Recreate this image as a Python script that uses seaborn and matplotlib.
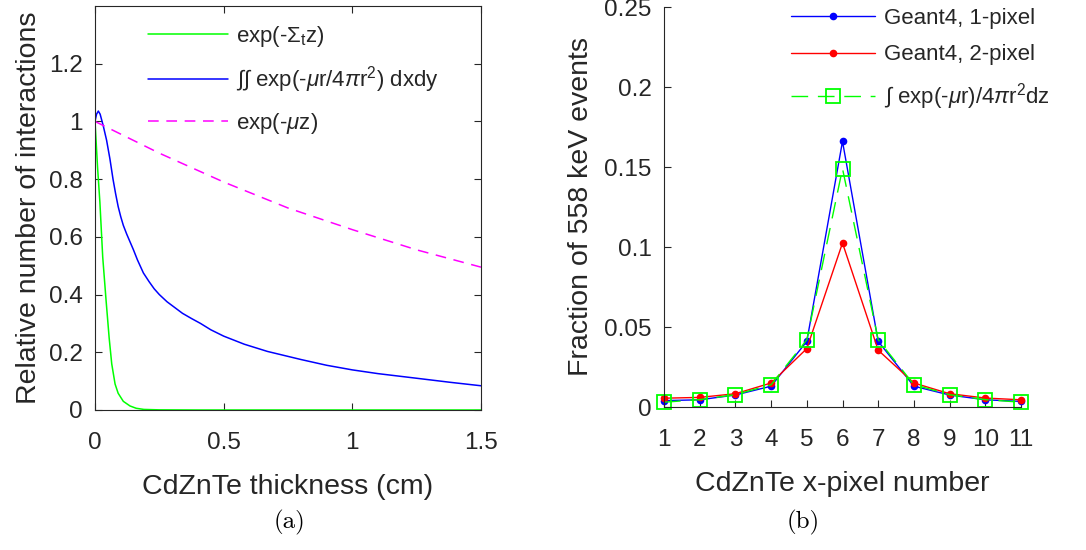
import numpy as np
import pandas as pd
import matplotlib
matplotlib.use("Agg")
import matplotlib.pyplot as plt
import seaborn as sns

# ---------------- data ----------------
# (a) attenuation curves vs CdZnTe thickness (cm)
green_z = [0, 0.005, 0.01, 0.019, 0.03, 0.043, 0.055, 0.065, 0.078, 0.09, 0.11,
           0.136, 0.16, 0.19, 0.25, 0.4, 1.5]
green_y = [1.0, 0.92, 0.84, 0.72, 0.53, 0.38, 0.25, 0.16, 0.09, 0.058, 0.03,
           0.014, 0.006, 0.002, 0.0005, 0.0, 0.0]

blue_z = [0, 0.006, 0.013, 0.02, 0.032, 0.045, 0.058, 0.07, 0.08, 0.09, 0.1,
          0.11, 0.123, 0.135, 0.149, 0.165, 0.188, 0.21, 0.23, 0.25, 0.28, 0.31,
          0.34, 0.375, 0.41, 0.45, 0.5, 0.58, 0.67, 0.8, 0.9, 1.0, 1.1,
          1.25, 1.38, 1.5]
blue_y = [1.0, 1.025, 1.036, 1.025, 0.985, 0.935, 0.87, 0.80, 0.75, 0.705, 0.67,
          0.64, 0.61, 0.585, 0.556, 0.52, 0.475, 0.445, 0.42, 0.40, 0.375, 0.355,
          0.335, 0.317, 0.30, 0.278, 0.256, 0.228, 0.203, 0.175, 0.155, 0.139,
          0.126, 0.110, 0.096, 0.084]

mag_z = [0, 0.25, 0.5, 0.75, 1.0, 1.25, 1.5]
mag_y = [1.0, 0.89, 0.79, 0.70, 0.625, 0.555, 0.495]

# (b) fraction of 558 keV events per x-pixel
pixels = [1, 2, 3, 4, 5, 6, 7, 8, 9, 10, 11]
g4_1pix = [0.004, 0.0045, 0.0075, 0.013, 0.041, 0.166, 0.041, 0.013, 0.0075, 0.0045, 0.0035]
g4_2pix = [0.0055, 0.006, 0.0083, 0.015, 0.0365, 0.1025, 0.0355, 0.015, 0.0083, 0.0056, 0.0045]
integ = [0.003, 0.0046, 0.0077, 0.0139, 0.042, 0.149, 0.042, 0.014, 0.0077, 0.0046, 0.003]

x_ticks_a = [0, 0.5, 1, 1.5]
x_tick_labels_a = ["0", "0.5", "1", "1.5"]
y_ticks_a = [0, 0.2, 0.4, 0.6, 0.8, 1.0, 1.2]
y_tick_labels_a = ["0", "0.2", "0.4", "0.6", "0.8", "1", "1.2"]
y_ticks_b = [0, 0.05, 0.1, 0.15, 0.2, 0.25]
y_tick_labels_b = ["0", "0.05", "0.1", "0.15", "0.2", "0.25"]

# ---------------- style ----------------
sns.set_theme(style="ticks")
plt.rcParams["font.family"] = ["Liberation Sans", "DejaVu Sans"]
plt.rcParams["mathtext.fontset"] = "custom"
plt.rcParams["mathtext.rm"] = "Liberation Sans"
plt.rcParams["mathtext.it"] = "Liberation Sans:italic"
plt.rcParams["axes.edgecolor"] = "#262626"
plt.rcParams["xtick.color"] = "#262626"
plt.rcParams["ytick.color"] = "#262626"
plt.rcParams["text.color"] = "#262626"

TICK = 17.5
LAB = 20.5
LEG = 16

fig = plt.figure(figsize=(10.86, 5.5), dpi=100)
axA = fig.add_axes([95 / 1086, 1 - 410 / 550, 386 / 1086, 404 / 550])
axB = fig.add_axes([664 / 1086, 1 - 407 / 550, 357 / 1086, 400 / 550])

# ---------------- panel (a) ----------------
sns.lineplot(x=green_z, y=green_y, ax=axA, color=(0, 1, 0), lw=1.1,
             estimator=None, label="exp(-Σ$_{\\mathrm{t}}$z)")
sns.lineplot(x=blue_z, y=blue_y, ax=axA, color=(0, 0, 1), lw=1.1,
             estimator=None, label="∫∫ exp(-$\\mu$r/4$\\pi$r$^2$) dxdy")
sns.lineplot(x=mag_z, y=mag_y, ax=axA, color=(1, 0, 1), lw=1.1,
             estimator=None, label="exp(-$\\mu$z)", dashes=False)
axA.lines[-1].set_dashes((7, 5))

axA.set_xlim(0, 1.5)
axA.set_ylim(0, 1.4)
axA.set_xticks(x_ticks_a)
axA.set_xticklabels(x_tick_labels_a, fontsize=TICK)
axA.set_yticks(y_ticks_a)
axA.set_yticklabels(y_tick_labels_a, fontsize=TICK)
axA.tick_params(direction="in", length=5, width=0.8, top=True, right=True)
axA.tick_params(axis="x", pad=16)
axA.tick_params(axis="y", pad=9)
for s in axA.spines.values():
    s.set_linewidth(0.8)
axA.set_xlabel("CdZnTe thickness (cm)", fontsize=LAB, labelpad=14)
axA.set_ylabel("Relative number of interactions", fontsize=LAB, labelpad=5)
legA = axA.legend(loc="upper left", bbox_to_anchor=(0.09, 1.0), frameon=False,
                  fontsize=LEG, handlelength=3.6, handletextpad=0.4,
                  labelspacing=0.7, borderaxespad=0.4)
for h in legA.get_lines():
    h.set_linewidth(1.1)
legA.get_lines()[2].set_dashes((7, 5))

# ---------------- panel (b) ----------------
sns.lineplot(x=pixels, y=g4_1pix, ax=axB, color=(0, 0, 1), lw=1.0, marker="o",
             markersize=5.5, markeredgewidth=0, estimator=None,
             label="Geant4, 1-pixel", clip_on=False)
sns.lineplot(x=pixels, y=g4_2pix, ax=axB, color=(1, 0, 0), lw=1.0, marker="o",
             markersize=5.5, markeredgewidth=0, estimator=None,
             label="Geant4, 2-pixel", clip_on=False)
sns.lineplot(x=pixels, y=integ, ax=axB, color=(0, 1, 0), lw=1.0, marker="s",
             markersize=9.5, markerfacecolor="none", markeredgecolor=(0, 1, 0),
             markeredgewidth=1.3, estimator=None,
             label="∫ exp(-$\\mu$r)/4$\\pi$r$^2$dz", clip_on=False)
axB.lines[-1].set_dashes((12, 7))

axB.set_xlim(1, 11)
axB.set_ylim(0, 0.25)
axB.set_xticks(pixels)
axB.set_xticklabels([str(p) for p in pixels], fontsize=TICK)
axB.set_yticks(y_ticks_b)
axB.set_yticklabels(y_tick_labels_b, fontsize=TICK)
axB.tick_params(direction="in", length=5, width=0.8)
axB.tick_params(axis="x", pad=16)
axB.tick_params(axis="y", pad=9)
for side in ["top", "right"]:
    axB.spines[side].set_visible(False)
for s in ["left", "bottom"]:
    axB.spines[s].set_linewidth(0.8)
axB.set_xlabel("CdZnTe x-pixel number", fontsize=LAB, labelpad=14)
axB.set_ylabel("Fraction of 558 keV events", fontsize=LAB, labelpad=7)
legB = axB.legend(loc="upper left", bbox_to_anchor=(0.33, 1.02), frameon=False,
                  fontsize=LEG, handlelength=3.8, handletextpad=0.4,
                  labelspacing=0.7, borderaxespad=0.0)
legB.get_lines()[2].set_dashes((12, 7))

# sub-figure captions
fig.text(290 / 1086, 1 - 522 / 550, "(a)", fontsize=18, family="cmr10",
         ha="center", va="center", color="black")
fig.text(803 / 1086, 1 - 522 / 550, "(b)", fontsize=18, family="cmr10",
         ha="center", va="center", color="black")

fig.savefig("out.png", dpi=100)
